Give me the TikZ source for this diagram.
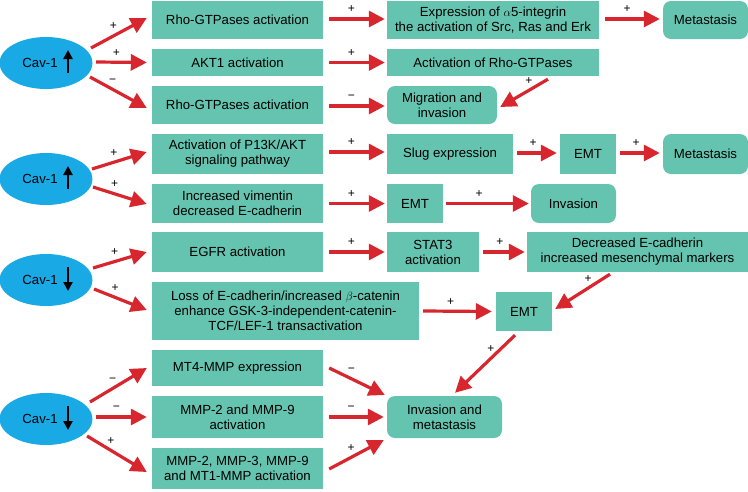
\documentclass[tikz,border=0pt]{standalone}
\usepackage{fontspec}
\setmainfont{Liberation Sans}
\usetikzlibrary{arrows.meta,shapes.geometric}
\definecolor{boxteal}{HTML}{64C4AF}
\definecolor{cavblue}{HTML}{19A9E5}
\definecolor{arrred}{HTML}{D8262F}
\begin{document}
\begin{tikzpicture}[x=1pt,y=-1pt,
  box/.style={fill=boxteal, draw=none, inner sep=0pt, align=center, font=\fontsize{13.2}{15}\selectfont},
  rbox/.style={box, rounded corners=8pt},
  cav/.style={ellipse, fill=cavblue, minimum width=93pt, minimum height=52pt, inner sep=0pt, font=\fontsize{13.2}{15}\selectfont},
  arr/.style={draw=arrred, line width=3.2pt, -{Triangle[length=16pt,width=16pt]}},
  updown/.style={draw=black, line width=2.4pt, -{Triangle[length=9pt,width=9pt]}},
  lab/.style={font=\fontsize{12}{12}\selectfont, inner sep=0.5pt, text height=7pt, text depth=0pt, above=4pt, pos=0.4}
]
\useasboundingbox (0,0) rectangle (748,491);

% ---------- group 1 ----------
\node[cav] (e1) at (46,63) {Cav-1\hspace*{12pt}};
\draw[updown] ([shift={(22,10)}]e1.center) -- ([shift={(22,-13)}]e1.center);
\node[box, minimum width=171pt, minimum height=38pt] (b11) at (237.5,20) {Rho-GTPases activation};
\node[box, minimum width=171pt, minimum height=27pt] (b12) at (237.5,62.5) {AKT1 activation};
\node[box, minimum width=171pt, minimum height=38pt] (b13) at (237.5,105) {Rho-GTPases activation};
\node[box, minimum width=212pt, minimum height=38pt] (c11) at (493,20) {Expression of $\alpha$5-integrin\\the activation of Src, Ras and Erk};
\node[box, minimum width=212pt, minimum height=27pt] (c12) at (493,62.5) {Activation of Rho-GTPases};
\node[rbox, minimum width=110pt, minimum height=38pt] (c13) at (442,105) {Migration and\\invasion};
\node[rbox, minimum width=85pt, minimum height=38pt] (d11) at (705.5,20) {Metastasis};

\draw[arr] ([shift={(45,-15)}]e1.center) -- node[lab]{+} ([shift={(-5,-2)}]b11.west);
\draw[arr] ([shift={(50,-1)}]e1.center) -- node[lab]{+} ([shift={(-5,0)}]b12.west);
\draw[arr] ([shift={(44,14)}]e1.center) -- node[lab]{−} ([shift={(-5,3)}]b13.west);
\draw[arr] ([shift={(6,-1)}]b11.east) -- node[lab]{+} ([shift={(-2,-1)}]c11.west);
\draw[arr] ([shift={(6,0)}]b12.east) -- node[lab]{+} ([shift={(-2,0)}]c12.west);
\draw[arr] ([shift={(6,1)}]b13.east) -- node[lab]{−} ([shift={(-2,1)}]c13.west);
\draw[arr] ([shift={(6,-1)}]c11.east) -- node[lab]{+} ([shift={(-3,-1)}]d11.west);
\draw[arr] ([shift={(55,3)}]c12.south) -- node[lab]{+} ([shift={(3,2)}]c13.east);

% ---------- group 2 ----------
\node[cav] (e2) at (46,179) {Cav-1\hspace*{12pt}};
\draw[updown] ([shift={(22,10)}]e2.center) -- ([shift={(22,-13)}]e2.center);
\node[box, minimum width=171pt, minimum height=40pt] (b21) at (237.5,154) {Activation of P13K/AKT\\signaling pathway};
\node[box, minimum width=171pt, minimum height=39pt] (b22) at (237.5,203.5) {Increased vimentin\\decreased E-cadherin};
\node[box, minimum width=126pt, minimum height=40pt] (c21) at (450,154) {Slug expression};
\node[box, minimum width=56pt, minimum height=40pt] (d21) at (588,154) {EMT};
\node[rbox, minimum width=85pt, minimum height=40pt] (f21) at (705.5,154) {Metastasis};
\node[box, minimum width=56pt, minimum height=39pt] (c22) at (415,203.5) {EMT};
\node[rbox, minimum width=85pt, minimum height=39pt] (d22) at (573.5,203.5) {Invasion};

\draw[arr] ([shift={(46,-10)}]e2.center) -- node[lab]{+} ([shift={(-5,-2)}]b21.west);
\draw[arr] ([shift={(47,8)}]e2.center) -- node[lab]{+} ([shift={(-5,0.5)}]b22.west);
\draw[arr] ([shift={(6,-2)}]b21.east) -- node[lab]{+} ([shift={(-2,-2)}]c21.west);
\draw[arr] ([shift={(6,0)}]b22.east) -- node[lab]{+} ([shift={(-2,0)}]c22.west);
\draw[arr] ([shift={(4,-1)}]c21.east) -- node[lab]{+} ([shift={(-3,-1)}]d21.west);
\draw[arr] ([shift={(4,-1)}]d21.east) -- node[lab]{+} ([shift={(-3,-1)}]f21.west);
\draw[arr] ([shift={(3,0)}]c22.east) -- node[lab]{+} ([shift={(-2,0)}]d22.west);

% ---------- group 3 ----------
\node[cav] (e3) at (46,280) {Cav-1\hspace*{12pt}};
\draw[updown] ([shift={(22,-13)}]e3.center) -- ([shift={(22,11)}]e3.center);
\node[box, minimum width=171pt, minimum height=40pt] (b31) at (237.5,252) {EGFR activation};
\node[box, minimum width=267pt, minimum height=58pt] (b32) at (285.5,311) {Loss of E-cadherin/increased $\beta$-catenin\\enhance GSK-3-independent-catenin-\\TCF/LEF-1 transactivation};
\node[box, minimum width=92pt, minimum height=40pt] (c31) at (433,252) {STAT3\\activation};
\node[box, minimum width=221pt, minimum height=40pt] (d31) at (637.5,252) {Decreased E-cadherin\\increased mesenchymal markers};
\node[box, minimum width=56pt, minimum height=39pt] (c32) at (524,311.5) {EMT};

\draw[arr] ([shift={(47,-12)}]e3.center) -- node[lab]{+} ([shift={(-5,0)}]b31.west);
\draw[arr] ([shift={(48,9)}]e3.center) -- node[lab]{+} ([shift={(-5,-1)}]b32.west);
\draw[arr] ([shift={(6,0)}]b31.east) -- node[lab]{+} ([shift={(-2,0)}]c31.west);
\draw[arr] ([shift={(4,0)}]c31.east) -- node[lab]{+} ([shift={(-2,0)}]d31.west);
\draw[arr] ([shift={(4,0)}]b32.east) -- node[lab]{+} ([shift={(-4,0)}]c32.west);
\draw[arr] ([shift={(-27.5,2)}]d31.south) -- node[lab]{+} ([shift={(3,-2.5)}]c32.east);

% ---------- group 4 ----------
\node[cav] (e4) at (46,419) {Cav-1\hspace*{12pt}};
\draw[updown] ([shift={(22,-13)}]e4.center) -- ([shift={(22,11)}]e4.center);
\node[box, minimum width=171pt, minimum height=36pt] (b41) at (237.5,368) {MT4-MMP expression};
\node[box, minimum width=171pt, minimum height=42pt] (b42) at (237.5,417) {MMP-2 and MMP-9\\activation};
\node[box, minimum width=171pt, minimum height=41pt] (b43) at (237.5,468.5) {MMP-2, MMP-3, MMP-9\\and MT1-MMP activation};
\node[rbox, minimum width=115pt, minimum height=42pt] (inv) at (444.5,417) {Invasion and\\metastasis};

\draw[arr] ([shift={(44,-17)}]e4.center) -- node[lab]{−} ([shift={(-5,0)}]b41.west);
\draw[arr] ([shift={(50,-2)}]e4.center) -- node[lab]{−} ([shift={(-5,0)}]b42.west);
\draw[arr] ([shift={(41,17)}]e4.center) -- node[lab]{+} ([shift={(-5,3.5)}]b43.west);
\draw[arr] ([shift={(6,0)}]b41.east) -- node[lab]{−} ([shift={(-2,-22)}]inv.west);
\draw[arr] ([shift={(6,0)}]b42.east) -- node[lab]{−} ([shift={(-3,0)}]inv.west);
\draw[arr] ([shift={(6,0.5)}]b43.east) -- node[lab]{+} ([shift={(-3,23)}]inv.west);
\draw[arr] ([shift={(-9,4)}]c32.south) -- node[lab]{+} ([shift={(10.5,-3)}]inv.north);
\end{tikzpicture}
\end{document}
